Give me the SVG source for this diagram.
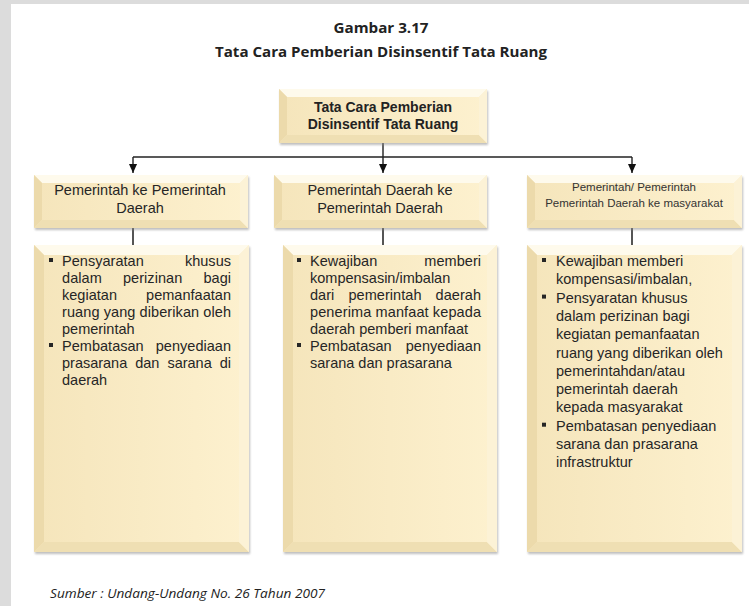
<svg xmlns="http://www.w3.org/2000/svg" width="749" height="606" viewBox="0 0 749 606">
<defs>
<style>
.face{fill:url(#gf)}
.bt{fill:#fefaec}
.bl{fill:#ecdaab}
.bb{fill:#efdfb3}
.br{fill:#fcf2d6}
.sh{fill:#8a8a8a;opacity:.55;filter:url(#blur)}
.t{font-family:"Liberation Sans",Arial,sans-serif;font-size:14.5px;fill:#262626}
.ts{font-family:"Liberation Sans",Arial,sans-serif;font-size:11.5px;fill:#333}
.tb{font-family:"Liberation Sans",Arial,sans-serif;font-size:14px;font-weight:bold;fill:#222}
.ttl{font-family:"Open Sans","Liberation Sans",sans-serif;font-size:14px;font-weight:bold;fill:#222}
.ft{font-family:"Open Sans","Liberation Sans",sans-serif;font-size:12px;font-style:italic;fill:#222}
.bul{fill:#262626}
.c{stroke:#222;stroke-width:1.4;fill:none}
.c2{stroke:#555;stroke-width:2;fill:none}
</style>
<linearGradient id="gf" x1="0" y1="0" x2="1" y2="0">
<stop offset="0" stop-color="#f5e5bb"/>
<stop offset="1" stop-color="#fdf1cf"/>
</linearGradient>
<filter id="blur" x="-5%" y="-5%" width="110%" height="110%"><feGaussianBlur stdDeviation="1.2"/></filter>
<marker id="ar" viewBox="0 0 10 10" refX="10" refY="5" markerWidth="9" markerHeight="9" markerUnits="userSpaceOnUse" orient="auto"><path d="M0,0.5 L10,5 L0,9.5 z" fill="#111"/></marker>
</defs>
<rect x="0" y="0" width="749" height="606" fill="#dcdcdc"/>
<rect x="11" y="4" width="738" height="602" fill="#ffffff"/>

<text class="ttl" x="381" y="33" text-anchor="middle" textLength="95" lengthAdjust="spacingAndGlyphs">Gambar 3.17</text>
<text class="ttl" x="381" y="57" text-anchor="middle" textLength="332" lengthAdjust="spacingAndGlyphs">Tata Cara Pemberian Disinsentif Tata Ruang</text>

<g id="connectors">
<path class="c" d="M383,143 V173" marker-end="url(#ar)"/>
<path class="c" d="M133,157 H632"/>
<path class="c" d="M133,157 V173" marker-end="url(#ar)"/>
<path class="c" d="M632,157 V173" marker-end="url(#ar)"/>
<path class="c2" d="M133,228 V245"/>
<path class="c2" d="M383,228 V245"/>
<path class="c2" d="M632,228 V245"/>
</g>

<g id="root">
<rect class="sh" x="280" y="91" width="208" height="54"/>
<rect class="face" x="279" y="89" width="208" height="54"/>
<polygon class="bt" points="279,89 487,89 479,97 287,97"/>
<polygon class="bl" points="279,89 287,97 287,135 279,143"/>
<polygon class="bb" points="279,143 287,135 479,135 487,143"/>
<polygon class="br" points="487,89 487,143 479,135 479,97"/>
<text class="tb" x="383" y="112" text-anchor="middle">Tata Cara Pemberian</text>
<text class="tb" x="383" y="129" text-anchor="middle">Disinsentif Tata Ruang</text>
</g>

<g id="n1">
<rect class="sh" x="35" y="177" width="214" height="53"/>
<rect class="face" x="34" y="175" width="214" height="53"/>
<polygon class="bt" points="34,175 248,175 240,183 42,183"/>
<polygon class="bl" points="34,175 42,183 42,220 34,228"/>
<polygon class="bb" points="34,228 42,220 240,220 248,228"/>
<polygon class="br" points="248,175 248,228 240,220 240,183"/>
<text class="t" x="140" y="195" text-anchor="middle">Pemerintah ke Pemerintah</text>
<text class="t" x="140" y="213" text-anchor="middle">Daerah</text>
</g>

<g id="n2">
<rect class="sh" x="275" y="177" width="213" height="53"/>
<rect class="face" x="274" y="175" width="213" height="53"/>
<polygon class="bt" points="274,175 487,175 479,183 282,183"/>
<polygon class="bl" points="274,175 282,183 282,220 274,228"/>
<polygon class="bb" points="274,228 282,220 479,220 487,228"/>
<polygon class="br" points="487,175 487,228 479,220 479,183"/>
<text class="t" x="380" y="195" text-anchor="middle">Pemerintah Daerah ke</text>
<text class="t" x="380" y="213" text-anchor="middle">Pemerintah Daerah</text>
</g>

<g id="n3">
<rect class="sh" x="528" y="177" width="215" height="53"/>
<rect class="face" x="527" y="175" width="215" height="53"/>
<polygon class="bt" points="527,175 742,175 734,183 535,183"/>
<polygon class="bl" points="527,175 535,183 535,220 527,228"/>
<polygon class="bb" points="527,228 535,220 734,220 742,228"/>
<polygon class="br" points="742,175 742,228 734,220 734,183"/>
<text class="ts" x="634" y="191" text-anchor="middle">Pemerintah/ Pemerintah</text>
<text class="ts" x="634" y="207" text-anchor="middle">Pemerintah Daerah ke masyarakat</text>
</g>

<g id="d1">
<rect class="sh" x="35" y="247" width="215" height="307"/>
<rect class="face" x="34" y="245" width="215" height="307"/>
<polygon class="bt" points="34,245 249,245 239,255 44,255"/>
<polygon class="bl" points="34,245 44,255 44,542 34,552"/>
<polygon class="bb" points="34,552 44,542 239,542 249,552"/>
<polygon class="br" points="249,245 249,552 239,542 239,255"/>
<rect class="bul" x="49" y="258" width="4" height="4"/>
<text class="t" x="62" y="266" textLength="169" lengthAdjust="spacing" word-spacing="37">Pensyaratan khusus</text>
<text class="t" x="62" y="283" textLength="169" lengthAdjust="spacing" word-spacing="17">dalam perizinan bagi</text>
<text class="t" x="62" y="300" textLength="169" lengthAdjust="spacing" word-spacing="25">kegiatan pemanfaatan</text>
<text class="t" x="62" y="317" textLength="169" lengthAdjust="spacing">ruang yang diberikan oleh</text>
<text class="t" x="62" y="334">pemerintah</text>
<rect class="bul" x="49" y="343" width="4" height="4"/>
<text class="t" x="62" y="351" textLength="169" lengthAdjust="spacing" word-spacing="8">Pembatasan penyediaan</text>
<text class="t" x="62" y="368" textLength="169" lengthAdjust="spacing" word-spacing="4">prasarana dan sarana di</text>
<text class="t" x="62" y="385">daerah</text>
</g>

<g id="d2">
<rect class="sh" x="284" y="247" width="214" height="307"/>
<rect class="face" x="283" y="245" width="214" height="307"/>
<polygon class="bt" points="283,245 497,245 487,255 293,255"/>
<polygon class="bl" points="283,245 293,255 293,542 283,552"/>
<polygon class="bb" points="283,552 293,542 487,542 497,552"/>
<polygon class="br" points="497,245 497,552 487,542 487,255"/>
<rect class="bul" x="297" y="258" width="4" height="4"/>
<text class="t" x="310" y="266" textLength="171" lengthAdjust="spacing" word-spacing="43">Kewajiban memberi</text>
<text class="t" x="310" y="283">kompensasin/imbalan</text>
<text class="t" x="310" y="300" textLength="171" lengthAdjust="spacing" word-spacing="10">dari pemerintah daerah</text>
<text class="t" x="310" y="317" textLength="171" lengthAdjust="spacing">penerima manfaat kepada</text>
<text class="t" x="310" y="334">daerah pemberi manfaat</text>
<rect class="bul" x="297" y="343" width="4" height="4"/>
<text class="t" x="310" y="351" textLength="171" lengthAdjust="spacing" word-spacing="10">Pembatasan penyediaan</text>
<text class="t" x="310" y="368">sarana dan prasarana</text>
</g>

<g id="d3">
<rect class="sh" x="528" y="247" width="215" height="307"/>
<rect class="face" x="527" y="245" width="215" height="307"/>
<polygon class="bt" points="527,245 742,245 732,255 537,255"/>
<polygon class="bl" points="527,245 537,255 537,542 527,552"/>
<polygon class="bb" points="527,552 537,542 732,542 742,552"/>
<polygon class="br" points="742,245 742,552 732,542 732,255"/>
<rect class="bul" x="542" y="258" width="4" height="4"/>
<text class="t" x="556" y="266">Kewajiban memberi</text>
<text class="t" x="556" y="284.3">kompensasi/imbalan,</text>
<rect class="bul" x="542" y="294.6" width="4" height="4"/>
<text class="t" x="556" y="302.6">Pensyaratan khusus</text>
<text class="t" x="556" y="320.9">dalam perizinan bagi</text>
<text class="t" x="556" y="339.2">kegiatan pemanfaatan</text>
<text class="t" x="556" y="357.5">ruang yang diberikan oleh</text>
<text class="t" x="556" y="375.8">pemerintahdan/atau</text>
<text class="t" x="556" y="394.1">pemerintah daerah</text>
<text class="t" x="556" y="412.4">kepada masyarakat</text>
<rect class="bul" x="542" y="422.7" width="4" height="4"/>
<text class="t" x="556" y="430.7">Pembatasan penyediaan</text>
<text class="t" x="556" y="449">sarana dan prasarana</text>
<text class="t" x="556" y="467.3">infrastruktur</text>
</g>

<text class="ft" x="50" y="598" textLength="275" lengthAdjust="spacingAndGlyphs">Sumber : Undang-Undang No. 26 Tahun 2007</text>
</svg>
